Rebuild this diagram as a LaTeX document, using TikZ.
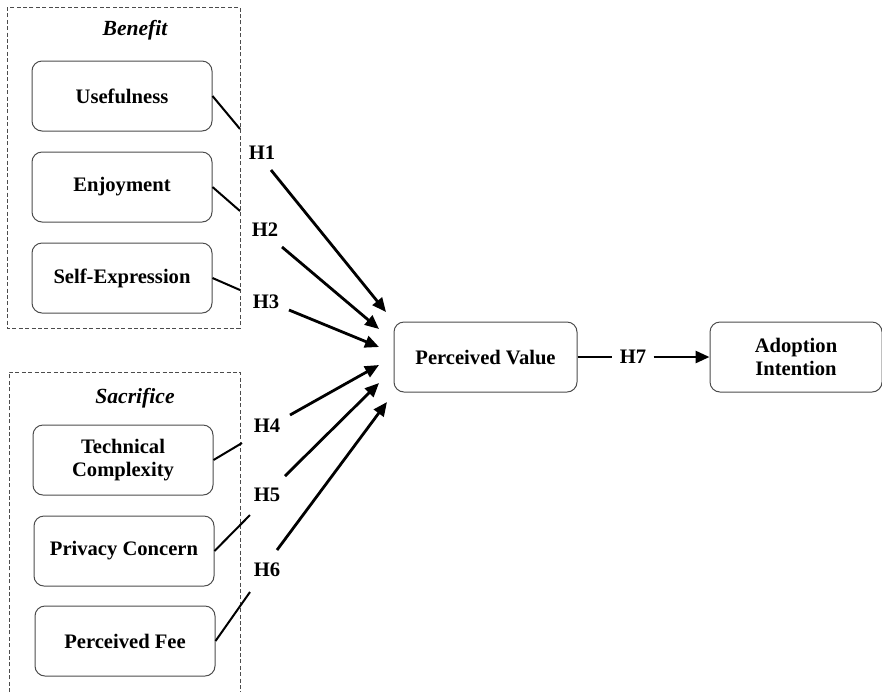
\documentclass[tikz,border=0pt]{standalone}
\usepackage{fontspec}
\setmainfont{Liberation Serif}
\usetikzlibrary{arrows.meta}
\begin{document}
\begin{tikzpicture}[x=0.5pt,y=-0.5pt,
  box/.style={draw=black!70, line width=0.5pt, rounded corners=5pt, minimum width=90pt, minimum height=35pt, align=center, font=\bfseries\fontsize{10.3}{11.5}\selectfont, inner sep=2pt},
  grp/.style={draw=black!70, line width=0.45pt, dash pattern=on 2pt off 1.2pt},
  ttl/.style={font=\bfseries\itshape\fontsize{10.8}{12}\selectfont, inner sep=0pt},
  hl/.style={font=\bfseries\fontsize{10.3}{12}\selectfont, inner sep=0pt},
  link/.style={line width=1pt},
  arr/.style={line width=1.4pt, -{Triangle[length=7pt,width=6pt]}}
]
\useasboundingbox (0,0) rectangle (882,692);
% groups
\draw[grp] (7,7) rectangle (240,328);
\draw[grp] (9,692) -- (9,372) -- (240,372) -- (240,692);
\node[ttl] (ben) at (135,30) {Benefit};
\node[ttl] (sac) at (135,398) {Sacrifice};
% boxes
\node[box] (use) at (122,96) {Usefulness};
\node[box] (enj) at (122,187) {Enjoyment};
\node[box] (sel) at (122,278) {Self-Expression};
\node[box] (tec) at (123,460) {Technical\\Complexity};
\node[box] (pri) at (124,551) {Privacy Concern};
\node[box] (fee) at (125,641) {Perceived Fee};
\node[box, minimum width=91.5pt] (pv) at (485.5,357) {Perceived Value};
\node[box, minimum width=86pt] (ai) at (796,357) {Adoption\\Intention};
% hypothesis labels
\node[hl] (h1) at (262,153) {H1};
\node[hl] (h2) at (265,230) {H2};
\node[hl] (h3) at (266,302) {H3};
\node[hl] (h4) at (267,426) {H4};
\node[hl] (h5) at (267,495) {H5};
\node[hl] (h6) at (267,570) {H6};
\node[hl, inner sep=3.5pt] (h7) at (633,357) {H7};
% link ends
\coordinate (l1) at (240,129);
\coordinate (l2) at (240,211);
\coordinate (l3) at (240,290);
\coordinate (l4) at (242,443);
\coordinate (l5) at (250,515);
\coordinate (l6) at (250,592);
% arrow starts
\coordinate (a1) at (271,170);
\coordinate (a2) at (282,247);
\coordinate (a3) at (289,310);
\coordinate (a4) at (290,415);
\coordinate (a5) at (285,476);
\coordinate (a6) at (277,550);
% arrow targets
\coordinate (t1) at (386,312);
\coordinate (t2) at (379,329);
\coordinate (t3) at (379,347);
\coordinate (t4) at (379,365);
\coordinate (t5) at (379,383);
\coordinate (t6) at (387,402);
% links
\draw[link] (use.east) -- (l1);
\draw[link] (enj.east) -- (l2);
\draw[link] (sel.east) -- (l3);
\draw[link] (tec.east) -- (l4);
\draw[link] (pri.east) -- (l5);
\draw[link] (fee.east) -- (l6);
% arrows
\draw[arr] (a1) -- (t1);
\draw[arr] (a2) -- (t2);
\draw[arr] (a3) -- (t3);
\draw[arr] (a4) -- (t4);
\draw[arr] (a5) -- (t5);
\draw[arr] (a6) -- (t6);
\draw[link] (pv.east) -- (h7.west);
\draw[arr] (h7.east) -- (ai.west);
\end{tikzpicture}
\end{document}
